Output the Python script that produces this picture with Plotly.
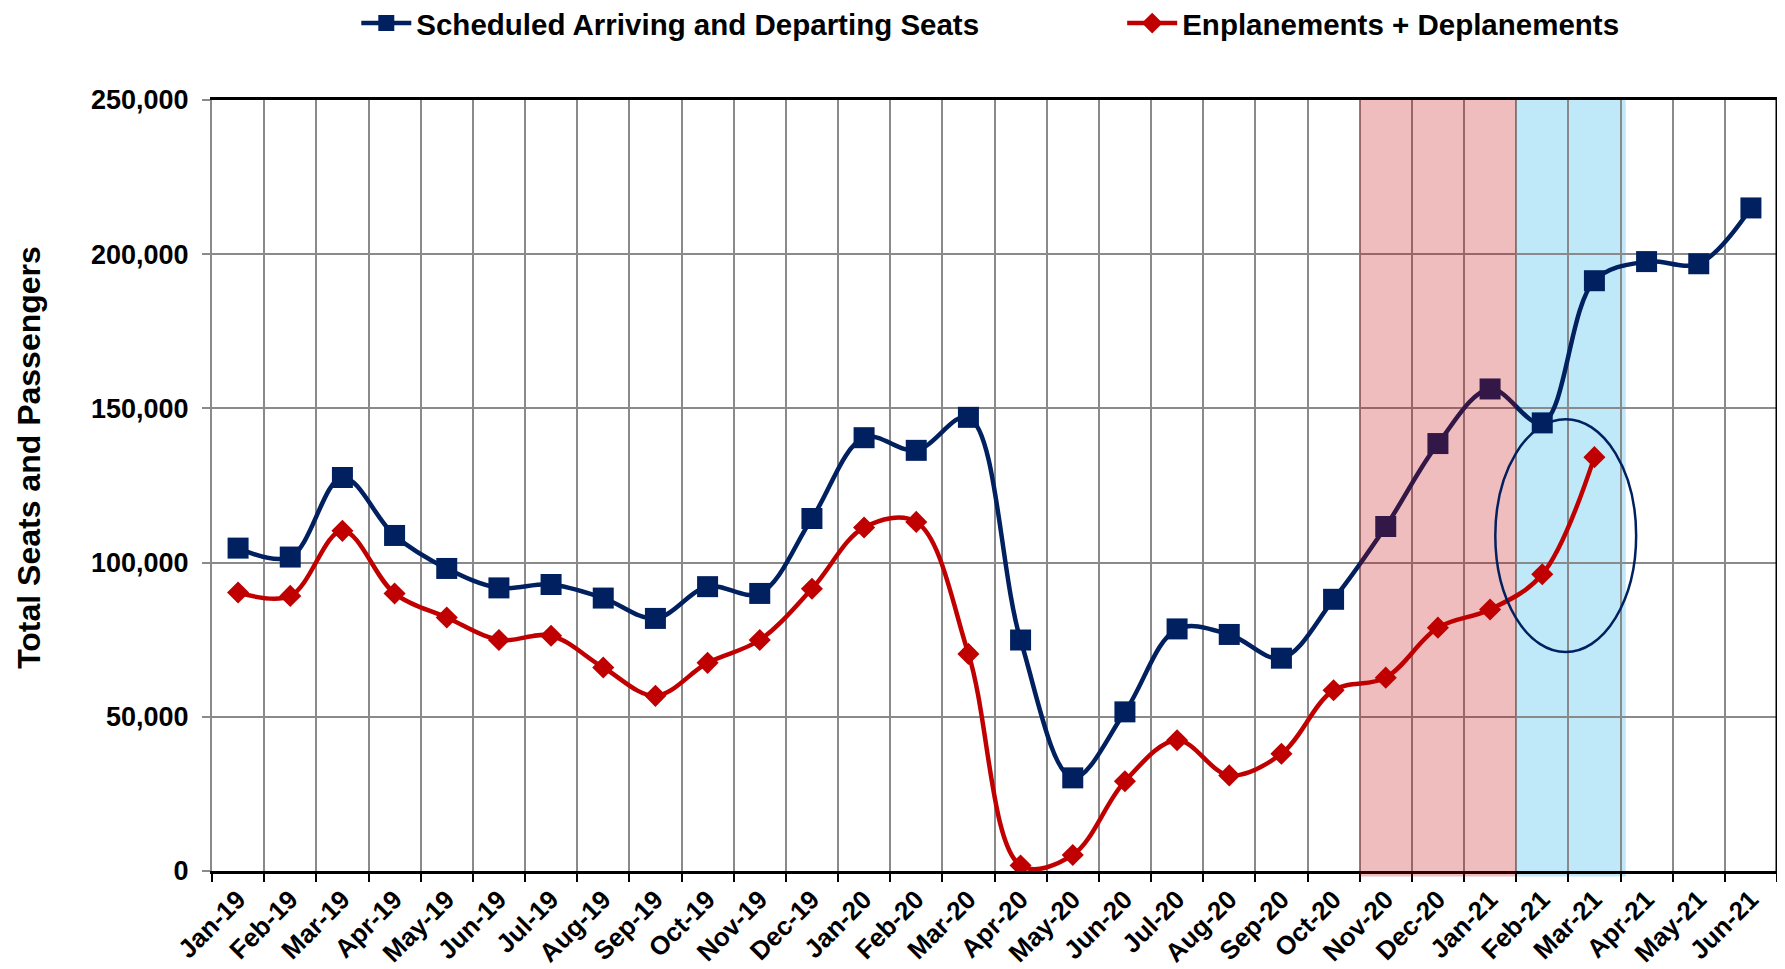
import plotly.graph_objects as go

MONTHS = [
    "Jan-19", "Feb-19", "Mar-19", "Apr-19", "May-19", "Jun-19", "Jul-19", "Aug-19",
    "Sep-19", "Oct-19", "Nov-19", "Dec-19", "Jan-20", "Feb-20", "Mar-20", "Apr-20",
    "May-20", "Jun-20", "Jul-20", "Aug-20", "Sep-20", "Oct-20", "Nov-20", "Dec-20",
    "Jan-21", "Feb-21", "Mar-21", "Apr-21", "May-21", "Jun-21",
]

SEATS = [
    104700, 101800, 127600, 108800, 98100, 91800, 92900, 88500,
    81900, 92200, 90000, 114300, 140500, 136400, 147100, 74900,
    30200, 51600, 78500, 76700, 69000, 88100, 111700, 138600,
    156300, 145300, 191400, 197600, 196900, 215000,
]

PASSENGERS = [
    90300, 89200, 110300, 90000, 82200, 74900, 76300, 66000,
    56800, 67500, 74900, 91500, 111400, 113200, 70400, 1800,
    5200, 29100, 42400, 31000, 38000, 58600, 62700, 78900,
    84800, 96200, 134200, None, None, None,
]

NAVY = "#002060"
RED = "#C00000"
GRID = "#8a8a8a"
FONT = "Arial, Liberation Sans, sans-serif"

fig = go.Figure()
fig.add_trace(go.Scatter(
    x=MONTHS, y=SEATS, name="Scheduled Arriving and Departing Seats",
    mode="lines+markers", legend="legend",
    line=dict(color=NAVY, width=4.5, shape="spline", smoothing=1),
    marker=dict(symbol="square", size=21, color=NAVY),
))
fig.add_trace(go.Scatter(
    x=MONTHS, y=PASSENGERS, name="Enplanements + Deplanements",
    mode="lines+markers", legend="legend2",
    line=dict(color=RED, width=4.5, shape="spline", smoothing=1),
    marker=dict(symbol="diamond", size=17, color=RED),
))

# shaded periods (category index space)
fig.add_shape(type="rect", xref="x", yref="paper", x0=24.5, x1=26.6, y0=-0.007, y1=1,
              fillcolor="#BFE9F9", line_width=0, layer="below")
fig.add_shape(type="rect", xref="x", yref="paper", x0=21.5, x1=24.5, y0=-0.007, y1=1,
              fillcolor="rgba(192,0,0,0.26)", line_width=0, layer="above")
# highlight ellipse around the latest passenger months
fig.add_shape(type="circle", xref="x", yref="y", x0=24.1, x1=26.8, y0=71000, y1=146500,
              line=dict(color=NAVY, width=2.5), layer="above")
# right frame line
fig.add_shape(type="line", xref="paper", yref="paper", x0=1, x1=1, y0=0, y1=1,
              line=dict(color="black", width=3), layer="above")

fig.update_xaxes(
    type="category", tickson="boundaries", tickangle=-45, range=[-0.5, 29.5],
    showgrid=True, gridcolor=GRID, gridwidth=2,
    showline=True, linecolor="black", linewidth=3, mirror=True,
    ticks="outside", ticklen=8, tickwidth=2, tickcolor="black",
    tickfont=dict(family=FONT, size=26, color="black", weight="bold"),
)
fig.update_yaxes(
    range=[0, 250000], dtick=50000, tickformat=",",
    showgrid=True, gridcolor=GRID, gridwidth=2,
    showline=True, linecolor=GRID, linewidth=2,
    ticks="outside", ticklen=8, tickwidth=2, tickcolor=GRID,
    ticklabelstandoff=8,
    tickfont=dict(family=FONT, size=27, color="black", weight="bold"),
    zeroline=False,
)

fig.add_annotation(
    text="Total Seats and Passengers", textangle=-90,
    xref="paper", yref="paper", x=-0.117, y=0.537, xanchor="center", yanchor="middle",
    showarrow=False, font=dict(family=FONT, size=32, color="black", weight="bold"),
)

legend_font = dict(family=FONT, size=29.5, color="black", weight="bold")
fig.update_layout(
    width=1777, height=961,
    margin=dict(l=204, r=8, t=92, b=98, autoexpand=False),
    plot_bgcolor="white", paper_bgcolor="white",
    showlegend=True,
    legend=dict(
        orientation="h", xref="container", yref="container",
        x=0.196, y=0.984, xanchor="left", yanchor="middle",
        font=legend_font, itemwidth=50,
    ),
    legend2=dict(
        orientation="h", xref="container", yref="container",
        x=0.627, y=0.984, xanchor="left", yanchor="middle",
        font=legend_font, itemwidth=50,
    ),
)

fig.write_html("out.html")
